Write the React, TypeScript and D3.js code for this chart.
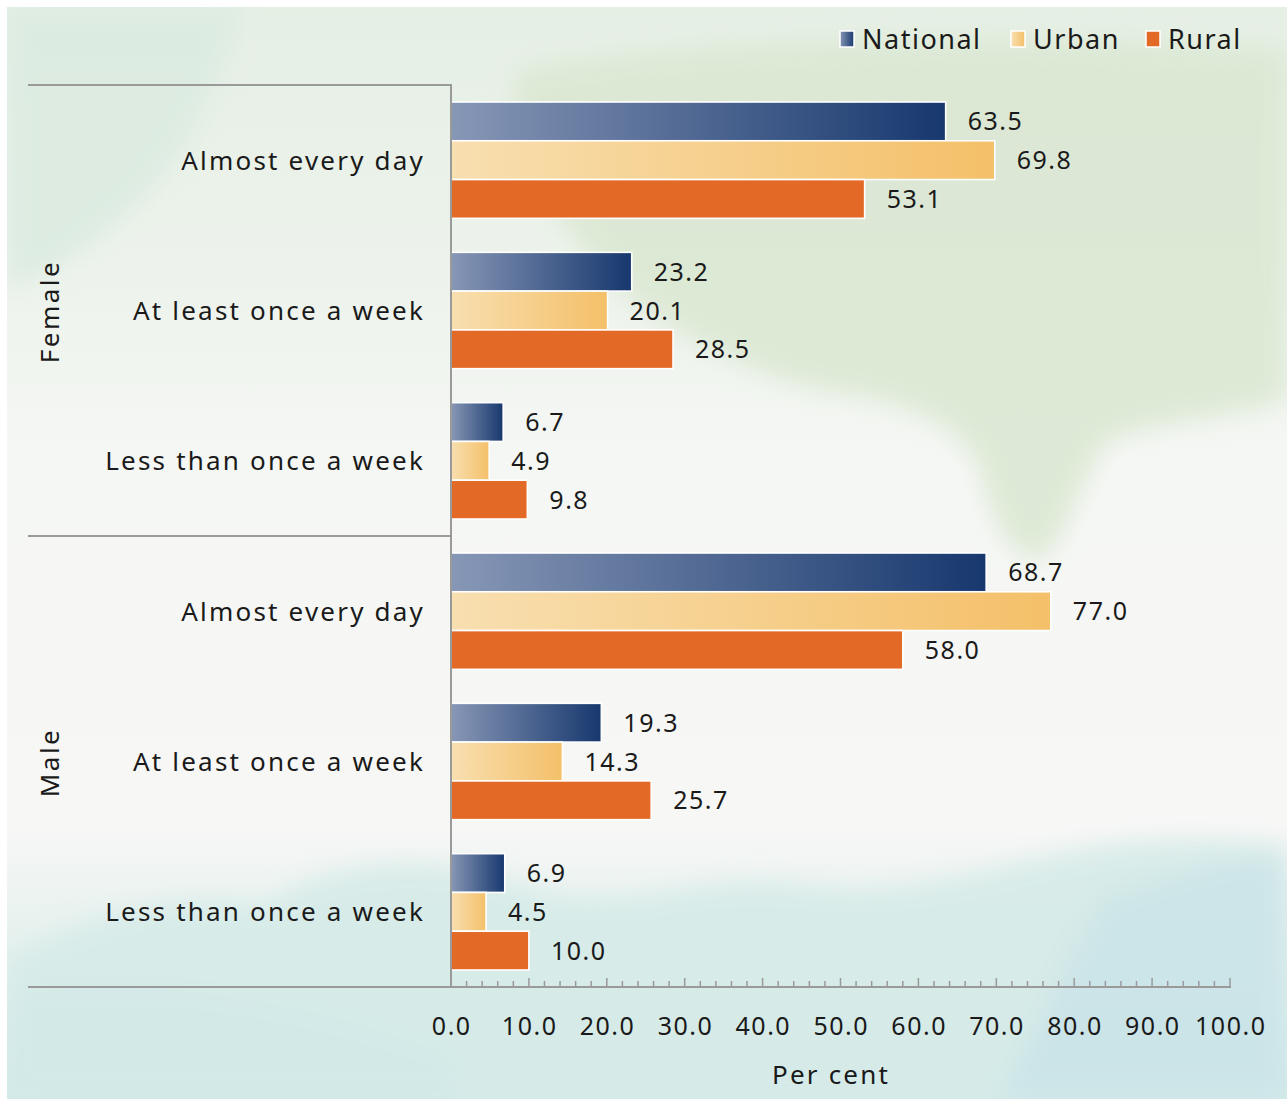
import React from "react";
import * as d3 from "d3";

const groups = ["Female", "Male"];
const categories = ["Almost every day", "At least once a week", "Less than once a week"];
const seriesNames = ["National", "Urban", "Rural"];
const nationalValues = [63.5, 23.2, 6.7, 68.7, 19.3, 6.9];
const urbanValues = [69.8, 20.1, 4.9, 77.0, 14.3, 4.5];
const ruralValues = [53.1, 28.5, 9.8, 58.0, 25.7, 10.0];
const xTicks = [0, 10, 20, 30, 40, 50, 60, 70, 80, 90, 100];
const minorTicks = d3.range(0, 101, 2);

const W = 1287;
const H = 1099;
const FONT = "'Noto Sans', 'Open Sans', sans-serif";
const TEXT = "#1a1a1a";
const AXIS = "#9a9a9a";

export default function App() {
  const x = d3.scaleLinear().domain([0, 100]).range([451, 1230]);
  const rowKeys = groups.flatMap((g) => categories.map((c) => g + "|" + c));
  const y = d3.scaleBand().domain(rowKeys).range([85, 987]).paddingInner(0).paddingOuter(0);
  const inner = d3.scaleBand().domain(seriesNames).range([17, y.bandwidth() - 17]).padding(0);
  const seriesValues = [nationalValues, urbanValues, ruralValues];
  const fills = ["url(#gNat)", "url(#gUrb)", "#e36a26"];

  const groupY = (g: string) => {
    const keys = categories.map((c) => g + "|" + c);
    const top = y(keys[0])!;
    const bot = y(keys[keys.length - 1])! + y.bandwidth();
    return { top, bot, mid: (top + bot) / 2 };
  };

  return (
    <svg width={W} height={H} style={{ position: "absolute", left: 0, top: 0 }} fontFamily={FONT}>
      <defs>
        <linearGradient id="gNat" x1="0" x2="1" y1="0" y2="0">
          <stop offset="0" stopColor="#8797b6" />
          <stop offset="1" stopColor="#17386e" />
        </linearGradient>
        <linearGradient id="gUrb" x1="0" x2="1" y1="0" y2="0">
          <stop offset="0" stopColor="#f8dfb0" />
          <stop offset="1" stopColor="#f4c069" />
        </linearGradient>
        <linearGradient id="bgBase" x1="0" x2="0" y1="0" y2="1">
          <stop offset="0" stopColor="#e5efe4" />
          <stop offset="0.25" stopColor="#edf3ec" />
          <stop offset="0.42" stopColor="#f5f7f4" />
          <stop offset="0.75" stopColor="#f7f7f6" />
          <stop offset="0.85" stopColor="#e6f1ee" />
          <stop offset="1" stopColor="#d4eae9" />
        </linearGradient>
        <filter id="blur" x="-20%" y="-20%" width="140%" height="140%">
          <feGaussianBlur stdDeviation="12" />
        </filter>
        <clipPath id="bgClip">
          <rect x={7} y={7} width={W - 7} height={H - 7} />
        </clipPath>
      </defs>
      <rect x={0} y={0} width={W} height={H} fill="#ffffff" />
      <g clipPath="url(#bgClip)">
        <rect x={7} y={7} width={W - 7} height={H - 7} fill="url(#bgBase)" />
        <g filter="url(#blur)" opacity={0.9}>
          <path d="M520,70 C700,40 1000,30 1287,50 L1287,400 C1220,420 1160,420 1110,440 C1080,470 1070,540 1040,560 C1010,560 990,520 980,470 C960,420 900,400 820,390 C740,370 660,330 600,270 C540,200 500,120 520,70 Z" fill="#dbe8d3" />
          <path d="M7,7 L240,7 C220,80 190,150 140,200 C100,240 60,270 7,290 Z" fill="#dcebe1" />
          <path d="M7,960 C100,910 180,890 260,905 C340,860 420,850 520,885 C620,920 700,870 800,885 C900,900 980,870 1080,850 C1160,835 1230,840 1287,845 L1287,1099 L7,1099 Z" fill="#d6ebe8" />
          <path d="M1100,900 C1180,870 1250,850 1287,860 L1287,1099 L1000,1099 Z" fill="#cae4e8" />
          <path d="M7,1000 C150,980 300,1000 450,1060 L450,1099 L7,1099 Z" fill="#d2e9e8" />
        </g>
      </g>

      {/* bars */}
      {rowKeys.map((key, i) => (
        <g key={key}>
          {seriesNames.map((s, si) => {
            const v = seriesValues[si][i];
            const by = y(key)! + inner(s)!;
            const bh = inner.bandwidth();
            return (
              <g key={s}>
                <rect
                  x={x(0)}
                  y={by}
                  width={x(v) - x(0)}
                  height={bh}
                  fill={fills[si]}
                  stroke="#ffffff"
                  strokeWidth={1.6}
                />
                <text
                  x={x(v) + 22}
                  y={by + bh / 2}
                  dy="0.36em"
                  fontSize={25}
                  letterSpacing={1.5}
                  fill={TEXT}
                >
                  {v.toFixed(1)}
                </text>
              </g>
            );
          })}
          <text
            x={425}
            y={y(key)! + y.bandwidth() / 2}
            dy="0.36em"
            textAnchor="end"
            fontSize={26}
            letterSpacing={2.2}
            fill={TEXT}
          >
            {key.split("|")[1]}
          </text>
        </g>
      ))}

      {/* group labels and separators */}
      {groups.map((g) => {
        const gy = groupY(g);
        return (
          <g key={g}>
            <text
              transform={`translate(50,${gy.mid + 1}) rotate(-90)`}
              textAnchor="middle"
              dy="0.36em"
              fontSize={26}
              letterSpacing={2.5}
              fill={TEXT}
            >
              {g}
            </text>
            <line x1={28} x2={x(0)} y1={gy.top} y2={gy.top} stroke={AXIS} strokeWidth={2} />
          </g>
        );
      })}
      <line x1={28} x2={x(100) + 1} y1={987} y2={987} stroke={AXIS} strokeWidth={2} />
      <line x1={x(0)} x2={x(0)} y1={84} y2={988} stroke={AXIS} strokeWidth={2} />

      {/* ticks */}
      {minorTicks.map((t) => (
        <line
          key={t}
          x1={x(t)}
          x2={x(t)}
          y1={987}
          y2={t % 10 === 0 ? 978 : 981}
          stroke={AXIS}
          strokeWidth={1.5}
        />
      ))}
      {xTicks.map((t) => (
        <text
          key={t}
          x={x(t) + 0.75}
          y={1035}
          textAnchor="middle"
          fontSize={25}
          letterSpacing={1.5}
          fill={TEXT}
        >
          {t.toFixed(1)}
        </text>
      ))}
      <text x={831} y={1084} textAnchor="middle" fontSize={26} letterSpacing={2.2} fill={TEXT}>
        Per cent
      </text>

      {/* legend */}
      {seriesNames.map((s, si) => {
        const lx = [840, 1011, 1146][si];
        return (
          <g key={s}>
            <rect x={lx} y={31} width={14} height={16} fill={fills[si]} stroke="#ffffff" strokeWidth={1.5} />
            <text x={lx + 22} y={49} fontSize={27} letterSpacing={1.5} fill={TEXT}>
              {s}
            </text>
          </g>
        );
      })}
    </svg>
  );
}
